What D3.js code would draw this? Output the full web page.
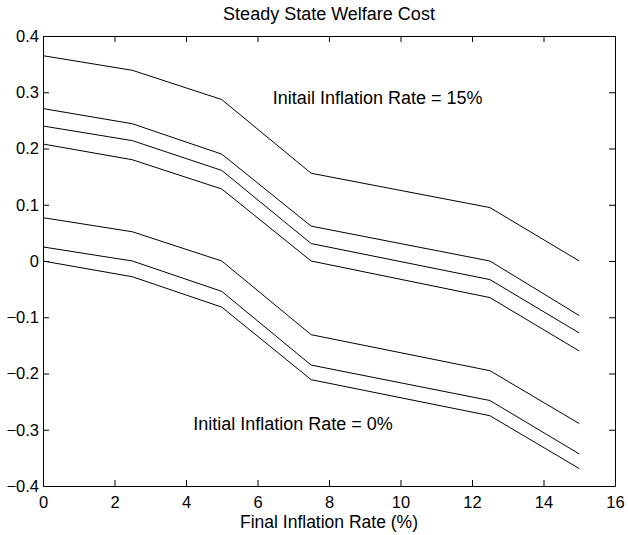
<!DOCTYPE html>
<html>
<head>
<meta charset="utf-8">
<script src="https://cdn.jsdelivr.net/npm/d3@7"></script>
<style>
  body { margin: 0; background: #fff; }
  svg text { font-family: "Liberation Sans", Arial, sans-serif; fill: #000; }
</style>
</head>
<body>
<div id="chart"></div>
<script>
// Steady state welfare cost curves
const finalRates = [0, 2.5, 5, 7.5, 12.5, 15];
const curve1 = [0.365, 0.339, 0.287, 0.156, 0.095, 0.0];
const curve2 = [0.271, 0.244, 0.190, 0.062, 0.0, -0.097];
const curve3 = [0.240, 0.214, 0.161, 0.031, -0.033, -0.128];
const curve4 = [0.208, 0.180, 0.128, 0.0, -0.065, -0.160];
const curve5 = [0.077, 0.052, 0.0, -0.131, -0.195, -0.289];
const curve6 = [0.025, 0.0, -0.054, -0.185, -0.248, -0.343];
const curve7 = [0.0, -0.028, -0.082, -0.211, -0.275, -0.369];
const curves = [curve1, curve2, curve3, curve4, curve5, curve6, curve7];

const xTicks = [0, 2, 4, 6, 8, 10, 12, 14, 16];
const yTicks = [-0.4, -0.3, -0.2, -0.1, 0, 0.1, 0.2, 0.3, 0.4];

const margin = { top: 36, right: 13, bottom: 49, left: 43 },
    width = 628 - margin.left - margin.right,
    height = 535 - margin.top - margin.bottom;

const svg = d3.select("#chart").append("svg")
    .attr("width", 628).attr("height", 535)
    .append("g")
    .attr("transform", "translate(" + margin.left + "," + margin.top + ")");

const x = d3.scaleLinear().domain([0, 16]).range([0, width]);
const y = d3.scaleLinear().domain([-0.4, 0.4]).range([height, 0]);

const fmt = d => d === 0 ? "0" : d3.format(".1f")(d);

// axes, ticks pointing inward like matlab
const tick = 6;
svg.append("g").attr("transform", `translate(0,${height})`)
    .call(d3.axisBottom(x).tickValues(xTicks).tickFormat(d3.format("d")).tickSizeInner(-tick).tickSizeOuter(0).tickPadding(10));
svg.append("g")
    .call(d3.axisTop(x).tickValues(xTicks).tickFormat("").tickSizeInner(-tick).tickSizeOuter(0));
svg.append("g")
    .call(d3.axisLeft(y).tickValues(yTicks).tickFormat(fmt).tickSizeInner(-tick).tickSizeOuter(0).tickPadding(4));
svg.append("g").attr("transform", `translate(${width},0)`)
    .call(d3.axisRight(y).tickValues(yTicks).tickFormat("").tickSizeInner(-tick).tickSizeOuter(0));

svg.selectAll(".domain").attr("stroke", "#000").attr("stroke-width", 1);
svg.selectAll(".tick line").attr("stroke", "#000");
svg.selectAll(".tick text").attr("font-size", "16.5px");

const line = d3.line().x((d, i) => x(finalRates[i])).y(d => y(d));

svg.selectAll(".curve")
    .data(curves)
    .enter().append("path")
    .attr("class", "curve")
    .attr("d", line)
    .attr("fill", "none")
    .attr("stroke", "#000")
    .attr("stroke-width", 1);

// annotations
svg.append("text").attr("x", x(6.43)).attr("y", y(0.29)).attr("dy", "0.35em")
    .attr("font-size", "18px").text("Initail Inflation Rate = 15%");
svg.append("text").attr("x", x(4.2)).attr("y", y(-0.289)).attr("dy", "0.35em")
    .attr("font-size", "18px").text("Initial Inflation Rate = 0%");

svg.append("text").attr("x", width / 2).attr("y", -22).attr("dy", "0.35em")
    .attr("text-anchor", "middle").attr("font-size", "18px").text("Steady State Welfare Cost");
svg.append("text").attr("x", width / 2).attr("y", height + 36).attr("dy", "0.35em")
    .attr("text-anchor", "middle").attr("font-size", "17.5px").text("Final Inflation Rate (%)");
</script>
</body>
</html>
